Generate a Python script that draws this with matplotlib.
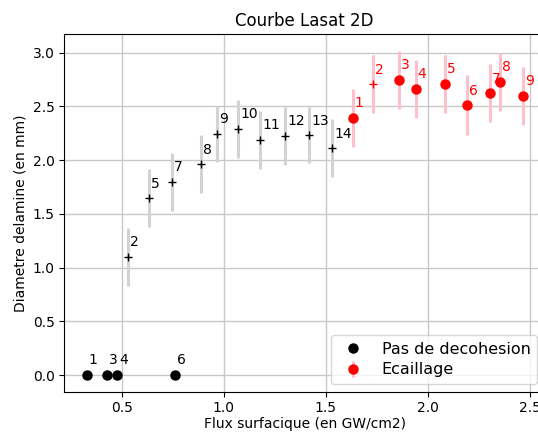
import matplotlib
matplotlib.use("Agg")
import matplotlib.pyplot as plt

# essais sans decohesion
nd_num = ["1", "3", "4", "6"]
nd_flux = [0.328, 0.428, 0.477, 0.760]
nd_diam = [0.0, 0.0, 0.0, 0.0]

# delamination (croix noires)
del_num = ["2", "5", "7", "8", "9", "10", "11", "12", "13", "14"]
del_flux = [0.529, 0.635, 0.748, 0.890, 0.969, 1.070, 1.178, 1.302, 1.420, 1.532]
del_diam = [1.10, 1.645, 1.80, 1.962, 2.244, 2.29, 2.188, 2.225, 2.232, 2.11]
del_err = [0.27, 0.27, 0.27, 0.27, 0.26, 0.27, 0.27, 0.27, 0.26, 0.27]

# ecaillage
eca_num = ["1", "3", "4", "5", "6", "7", "8", "9"]
eca_flux = [1.632, 1.861, 1.941, 2.085, 2.194, 2.307, 2.354, 2.466]
eca_diam = [2.396, 2.747, 2.666, 2.712, 2.511, 2.623, 2.728, 2.60]
eca_err = [0.27, 0.27, 0.27, 0.27, 0.28, 0.27, 0.27, 0.27]

# ecaillage partiel (croix rouge)
ep_num = ["2"]
ep_flux = [1.733]
ep_diam = [2.707]
ep_err = [0.27]

fig = plt.figure(figsize=(5.38, 4.32), dpi=100)
ax = fig.add_axes([0.1195, 0.0933, 0.8935, 0.8273])

ax.plot(nd_flux, nd_diam, 'ko', markersize=6.5, label="Pas de decohesion")
ax.errorbar(del_flux, del_diam, yerr=del_err, fmt='k+', ecolor='lightgrey',
            elinewidth=2.2, markersize=6)
ax.errorbar(eca_flux, eca_diam, yerr=eca_err, fmt='o', color='red', ecolor='pink',
            elinewidth=2.2, markersize=6.5, label="Ecaillage")
ax.errorbar(ep_flux, ep_diam, yerr=ep_err, fmt='+', color='red', ecolor='pink',
            elinewidth=2.2, markersize=6)

for n, x, y in zip(nd_num, nd_flux, nd_diam):
    ax.text(x + 0.01, y + 0.1, n, color='k', fontsize=10)
for n, x, y in zip(del_num, del_flux, del_diam):
    ax.text(x + 0.01, y + 0.1, n, color='k', fontsize=10)
for n, x, y in zip(eca_num, eca_flux, eca_diam):
    ax.text(x + 0.01, y + 0.1, n, color='red', fontsize=10)
for n, x, y in zip(ep_num, ep_flux, ep_diam):
    ax.text(x + 0.01, y + 0.1, n, color='red', fontsize=10)

ax.set_xlim(0.219, 2.575)
ax.set_ylim(-0.155, 3.172)
ax.set_xticks([0.5, 1.0, 1.5, 2.0, 2.5])
ax.grid(True, color='#c8c8c8', linewidth=1)
ax.set_axisbelow(True)
ax.set_title("Courbe Lasat 2D")
ax.set_xlabel("Flux surfacique (en GW/cm2)", labelpad=1.5)
ax.set_ylabel("Diametre delamine (en mm)")
ax.legend(loc='lower right', fontsize=11.5, labelspacing=0.35)

fig.savefig("out.png", dpi=100)
